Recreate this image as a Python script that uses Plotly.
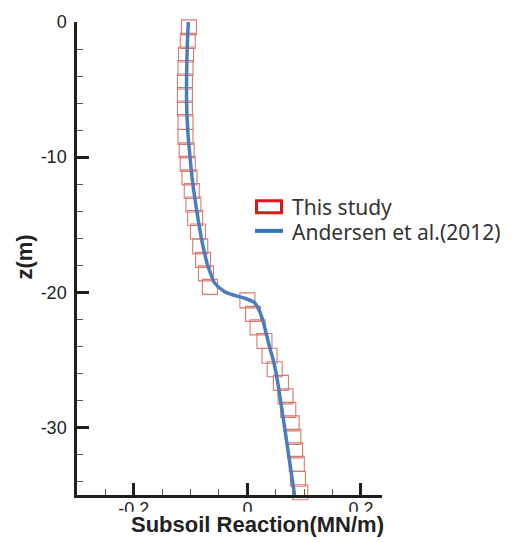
import plotly.graph_objects as go

# ---- data ----
z_study = [-0.4, -1.4, -2.4, -3.4, -4.4, -5.4, -6.4, -7.4, -8.5, -9.5,
           -10.5, -11.5, -12.5, -13.5, -14.5, -15.5, -16.6, -17.6, -18.6, -19.6,
           -20.6, -21.6, -22.6, -23.6, -24.7, -25.7, -26.7, -27.7, -28.7, -29.7,
           -30.7, -31.7, -32.7, -33.8, -34.8]
x_study = [-0.103, -0.105, -0.108, -0.109, -0.110, -0.110, -0.110, -0.109, -0.109, -0.107,
           -0.105, -0.102, -0.098, -0.095, -0.092, -0.087, -0.083, -0.078, -0.073, -0.066,
           0.000, 0.010, 0.018, 0.030, 0.039, 0.048, 0.059, 0.067, 0.072, 0.078,
           0.081, 0.084, 0.087, 0.089, 0.093]

z_andersen = [0, -2, -4, -6, -8, -10, -12, -14, -16, -17, -18, -18.7, -19.3, -19.9,
              -20.2, -20.4, -20.75, -21.35, -22.2, -23.2, -24.2, -25.1, -26.1, -27.1,
              -29, -31, -33, -35]
x_andersen = [-0.104, -0.106, -0.107, -0.107, -0.105, -0.101, -0.096, -0.089, -0.081,
              -0.076, -0.070, -0.064, -0.058, -0.042, -0.025, -0.008, 0.012, 0.021,
              0.028, 0.034, 0.040, 0.046, 0.051, 0.055, 0.062, 0.069, 0.076, 0.083]

legend_names = ["This study", "Andersen et al.(2012)"]
x_title = "Subsoil Reaction(MN/m)"
y_title = "z(m)"
x_ticks = [-0.2, 0, 0.2]
y_ticks = [0, -10, -20, -30]

# ---- figure ----
W, H = 517, 542
L, R, T, B = 77, 135, 15, 47
pw, ph = W - L - R, H - T - B

def px2paper_x(px):
    return (px - L) / pw

def px2paper_y(py):
    return (H - B - py) / ph

fig = go.Figure()
fig.add_trace(go.Scatter(
    x=x_study, y=z_study, mode="markers", name=legend_names[0],
    marker=dict(symbol="square-open", size=15, color="#d77a70",
                line=dict(width=1.1, color="#d77a70")),
    cliponaxis=False, showlegend=False))
fig.add_trace(go.Scatter(
    x=x_andersen, y=z_andersen, mode="lines", name=legend_names[1],
    line=dict(color="#4a7cc0", width=3.5, shape="spline", smoothing=0.8),
    showlegend=False))

axis_common = dict(
    showgrid=False, zeroline=False, showline=True, linewidth=2.5, linecolor="#1e1e1e",
    ticks="inside", ticklen=12, tickwidth=2.5, tickcolor="#1e1e1e",
    tickfont=dict(family="Liberation Sans, Arial", size=18, color="#222"),
)

fig.update_xaxes(range=[-0.3, 0.237], tickvals=x_ticks,
                 ticktext=[f"{v:g}" for v in x_ticks],
                 minor=dict(ticks="inside", ticklen=6, tickwidth=1, tickcolor="#555", dtick=0.05),
                 ticklabelstandoff=-4,
                 **axis_common)
fig.update_yaxes(range=[-35, 0], tickvals=y_ticks,
                 ticktext=[f"{v:g}" for v in y_ticks],
                 minor=dict(ticks="inside", ticklen=6, tickwidth=1, tickcolor="#555", dtick=2),
                 ticklabelstandoff=4,
                 **axis_common)

shapes = [
    # white band that covers the lower part of the x tick labels (as in the reference)
    dict(type="rect", xref="paper", yref="paper", layer="above",
         x0=px2paper_x(0), x1=px2paper_x(W), y0=px2paper_y(512), y1=px2paper_y(H + 5),
         fillcolor="white", line=dict(width=0)),
    # legend symbols
    dict(type="rect", xref="paper", yref="paper", layer="above",
         x0=px2paper_x(256.5), x1=px2paper_x(281.5), y0=px2paper_y(208.5), y1=px2paper_y(196.5),
         fillcolor="rgba(0,0,0,0)", line=dict(width=3, color="#e0161e")),
    dict(type="line", xref="paper", yref="paper", layer="above",
         x0=px2paper_x(255), x1=px2paper_x(283), y0=px2paper_y(227), y1=px2paper_y(227),
         line=dict(width=4, color="#2f75c0")),
]

annotations = [
    dict(text=legend_names[0], xref="paper", yref="paper", x=px2paper_x(290), y=px2paper_y(203),
         xanchor="left", yanchor="middle", showarrow=False,
         font=dict(family="Noto Sans", size=21, color="#333")),
    dict(text=legend_names[1], xref="paper", yref="paper", x=px2paper_x(290), y=px2paper_y(228),
         xanchor="left", yanchor="middle", showarrow=False,
         font=dict(family="Noto Sans", size=21, color="#333")),
    dict(text=f"<b>{x_title}</b>", xref="paper", yref="paper", x=px2paper_x(257), y=px2paper_y(525),
         xanchor="center", yanchor="middle", showarrow=False,
         font=dict(family="Liberation Sans, Arial", size=22, color="#222")),
    dict(text=f"<b>{y_title}</b>", xref="paper", yref="paper", x=px2paper_x(25), y=px2paper_y(254),
         xanchor="center", yanchor="middle", showarrow=False, textangle=-90,
         font=dict(family="Liberation Sans, Arial", size=22, color="#222")),
]

fig.update_layout(
    width=W, height=H,
    margin=dict(l=L, r=R, t=T, b=B),
    paper_bgcolor="white", plot_bgcolor="white",
    shapes=shapes, annotations=annotations,
    showlegend=False,
)

fig.write_html("out.html")
